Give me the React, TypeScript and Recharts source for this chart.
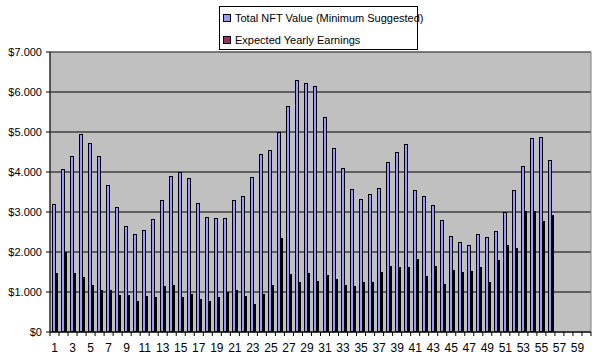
import React from 'react';
import { BarChart, Bar, XAxis, YAxis, CartesianGrid, Legend, ReferenceArea } from 'recharts';

const categories = [
  1, 2, 3, 4, 5, 6, 7, 8, 9, 10, 11, 12, 13, 14, 15, 16, 17, 18, 19, 20,
  21, 22, 23, 24, 25, 26, 27, 28, 29, 30, 31, 32, 33, 34, 35, 36, 37, 38, 39, 40,
  41, 42, 43, 44, 45, 46, 47, 48, 49, 50, 51, 52, 53, 54, 55, 56, 57, 58, 59, 60,
];

const totalNftValue = [
  3200, 4075, 4400, 4950, 4725, 4400, 3675, 3125, 2650, 2450,
  2550, 2825, 3300, 3900, 4000, 3850, 3225, 2875, 2850, 2850,
  3300, 3400, 3875, 4450, 4550, 5000, 5650, 6300, 6225, 6150,
  5375, 4600, 4100, 3575, 3325, 3450, 3600, 4250, 4500, 4700,
  3550, 3400, 3175, 2800, 2400, 2250, 2175, 2450, 2375, 2525,
  3000, 3550, 4150, 4850, 4875, 4300, null, null, null, null,
];

const yearlyEarnings = [
  1475, 2000, 1475, 1375, 1175, 1050, 1050, 925, 925, 775,
  900, 875, 1150, 1175, 875, 950, 825, 775, 875, 1000,
  1050, 900, 700, 950, 1175, 2350, 1450, 1250, 1475, 1275,
  1425, 1325, 1175, 1150, 1250, 1250, 1500, 1650, 1625, 1625,
  1825, 1400, 1650, 1200, 1550, 1500, 1525, 1625, 1250, 1800,
  2175, 2100, 3025, 3025, 2775, 2925, null, null, null, null,
];

const yTicks = [0, 1000, 2000, 3000, 4000, 5000, 6000, 7000];

const seriesNames = ['Total NFT Value (Minimum Suggested)', 'Expected Yearly Earnings'];
const seriesColors = ['#9999FF', '#993366'];

const data = categories.map((c, i) => ({
  cat: c,
  total: totalNftValue[i],
  earn: yearlyEarnings[i],
}));

const FONT = '"Liberation Sans", Arial, sans-serif';
const PLOT_W = 541;
const STEP = PLOT_W / categories.length;

const fmtY = (v: number) => {
  if (v === 0) return '$0';
  const th = Math.floor(v / 1000);
  const rest = String(v % 1000).padStart(3, '0');
  return `$${th}.${rest}`;
};

const XTick = (props: any) => {
  const { x, y, payload, index } = props;
  const n = Number(payload.value);
  return (
    <g>
      <line x1={x - STEP / 2} x2={x - STEP / 2} y1={y} y2={y + 4} stroke="#000" strokeWidth={1} />
      {index === categories.length - 1 && (
        <line x1={x + STEP / 2} x2={x + STEP / 2} y1={y} y2={y + 4} stroke="#000" strokeWidth={1} />
      )}
      {n % 2 === 1 && (
        <text x={x} y={y + 20} textAnchor="middle" fontSize={12} fontFamily={FONT} fill="#000">
          {payload.value}
        </text>
      )}
    </g>
  );
};

const makeShape = (fill: string, innerW: number, dx: number) => (props: any) => {
  const { x, y, height } = props;
  if (height == null || height <= 0) return <g />;
  const rx = Math.round(x) + dx;
  const ry = Math.round(y);
  const rb = Math.round(y + height);
  return (
    <rect
      x={rx + 0.5}
      y={ry + 0.5}
      width={innerW}
      height={Math.max(rb - ry - 1, 0)}
      fill={fill}
      stroke="#000"
      strokeWidth={1}
    />
  );
};

const TotalShape = makeShape(seriesColors[0], 3, 0);
const EarnShape = makeShape(seriesColors[1], 1, 1);

const LegendBox = () => (
  <div
    style={{
      width: 199,
      height: 44,
      boxSizing: 'border-box',
      border: '1px solid #000',
      background: '#fff',
      fontFamily: FONT,
      fontSize: 11,
      color: '#000',
    }}
  >
    {seriesNames.map((name, i) => (
      <div key={i} style={{ height: 22, display: 'flex', alignItems: 'center', paddingLeft: 3 }}>
        <span
          style={{
            display: 'inline-block',
            flexShrink: 0,
            width: 6,
            height: 6,
            border: '1px solid #000',
            background: seriesColors[i],
            marginRight: 4,
          }}
        />
        <span style={{ whiteSpace: 'nowrap' }}>{name}</span>
      </div>
    ))}
  </div>
);

export default function App() {
  return (
    <div style={{ position: 'absolute', left: 0, top: 0, width: 601, height: 358, background: '#fff' }}>
      <BarChart
        width={601}
        height={358}
        data={data}
        margin={{ top: 52, right: 10, left: 0, bottom: 0 }}
        barGap={0}
        barCategoryGap={0}
      >
        <CartesianGrid vertical={false} stroke="#000" fill="#C0C0C0" fillOpacity={1} />
        <ReferenceArea y1={0} y2={7000} fill="none" stroke="#808080" strokeWidth={1} ifOverflow="visible" />
        <XAxis
          dataKey="cat"
          interval={0}
          height={26}
          axisLine={{ stroke: '#000' }}
          tickLine={false}
          tickSize={0}
          tickMargin={0}
          tick={<XTick />}
        />
        <YAxis
          width={50}
          domain={[0, 7000]}
          ticks={yTicks}
          interval={0}
          tickFormatter={fmtY}
          axisLine={{ stroke: '#000' }}
          tickLine={{ stroke: '#000' }}
          tickSize={4}
          tickMargin={4}
          tick={{ fontSize: 11, fontFamily: FONT, fill: '#000' }}
        />
        <Legend
          layout="vertical"
          verticalAlign="middle"
          align="center"
          wrapperStyle={{ left: 219, top: 6, width: 199, height: 44 }}
          content={<LegendBox />}
        />
        <Bar
          dataKey="total"
          name={seriesNames[0]}
          fill={seriesColors[0]}
          barSize={3}
          shape={TotalShape}
          isAnimationActive={false}
        />
        <Bar
          dataKey="earn"
          name={seriesNames[1]}
          fill={seriesColors[1]}
          barSize={3}
          shape={EarnShape}
          isAnimationActive={false}
        />
      </BarChart>
    </div>
  );
}
